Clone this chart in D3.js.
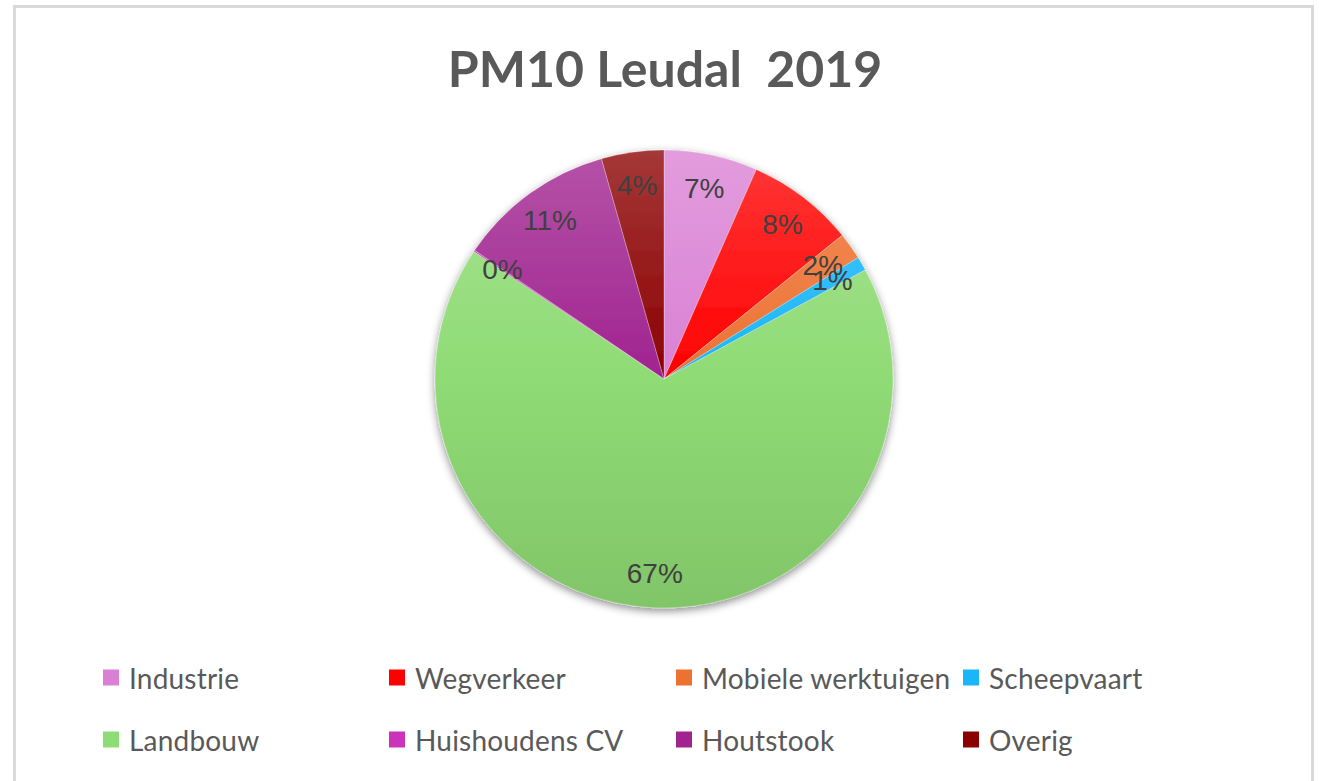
<!DOCTYPE html>
<html>
<head>
<meta charset="utf-8">
<script src="https://cdn.jsdelivr.net/npm/d3@7/dist/d3.min.js"></script>
<style>
  html, body { margin: 0; padding: 0; background: #fff; }
  svg { display: block; }
</style>
</head>
<body>
<svg id="chart" width="1319" height="781"></svg>
<script>
// ---- data ----
const categories = ["Industrie", "Wegverkeer", "Mobiele werktuigen", "Scheepvaart",
                    "Landbouw", "Huishoudens CV", "Houtstook", "Overig"];
const values = [6.6, 7.6, 1.9, 1.0, 67.3, 0.1, 11.1, 4.4];
const colors = ["#DA80D4", "#FF0000", "#ED7131", "#1AB6F8",
                "#8FDB75", "#CC33BB", "#A0238F", "#8B0000"];
const title = "PM10 Leudal  2019";

// ---- layout ----
const cx = 664, cy = 379, R = 229, labelR = 195;

const svg = d3.select("#chart");
const defs = svg.append("defs");

// frame
svg.append("rect")
  .attr("x", 14.5).attr("y", 6.5)
  .attr("width", 1298).attr("height", 800)
  .attr("fill", "#fff").attr("stroke", "#d9d9d9").attr("stroke-width", 3);

// title
svg.append("text")
  .attr("x", 665).attr("y", 87)
  .attr("text-anchor", "middle")
  .style("white-space", "pre")
  .attr("font-family", "Lato, 'Liberation Sans', Arial, sans-serif")
  .attr("font-weight", "bold")
  .attr("font-size", 50)
  .attr("fill", "#595959")
  .text(title);

// shadow filter
const f = defs.append("filter").attr("id", "shadow")
  .attr("x", "-20%").attr("y", "-20%").attr("width", "140%").attr("height", "140%");
f.append("feDropShadow").attr("dx", 0).attr("dy", 3).attr("stdDeviation", 4)
  .attr("flood-color", "#000").attr("flood-opacity", 0.45);

// gradients (in the pie group's coordinate space)
colors.forEach((c, i) => {
  const g = defs.append("linearGradient").attr("id", "grad" + i)
    .attr("gradientUnits", "userSpaceOnUse")
    .attr("x1", 0).attr("x2", 0).attr("y1", -R).attr("y2", R);
  g.append("stop").attr("offset", 0).attr("stop-color", d3.interpolateRgb(c, "#ffffff")(0.22));
  g.append("stop").attr("offset", 0.5).attr("stop-color", c);
  g.append("stop").attr("offset", 1).attr("stop-color", d3.interpolateRgb(c, "#000000")(0.1));
});

const data = categories.map((k, i) => ({ name: k, value: values[i], color: colors[i], i }));
const total = d3.sum(values);

const pie = d3.pie().value(d => d.value).sort(null);
const arcs = pie(data);
const arc = d3.arc().innerRadius(0).outerRadius(R);
const labelArc = d3.arc().innerRadius(labelR).outerRadius(labelR);

const gPie = svg.append("g").attr("transform", `translate(${cx},${cy})`);
gPie.append("g").attr("filter", "url(#shadow)")
  .selectAll("path").data(arcs).join("path")
  .attr("d", arc)
  .attr("fill", d => `url(#grad${d.data.i})`)
  .attr("stroke", "rgba(255,255,255,0.35)")
  .attr("stroke-width", 0.8);

gPie.append("g").selectAll("text").data(arcs).join("text")
  .attr("transform", d => `translate(${labelArc.centroid(d)})`)
  .attr("text-anchor", "middle")
  .attr("dominant-baseline", "central")
  .attr("font-family", "'Liberation Sans', Arial, sans-serif")
  .attr("font-size", 28)
  .attr("fill", "#404040")
  .text(d => Math.round(d.data.value / total * 100) + "%");

// legend
const colX = [103, 389, 676, 963];
const rowY = [678, 740];
const leg = svg.append("g");
const items = leg.selectAll("g").data(data).join("g")
  .attr("transform", (d, i) => `translate(${colX[i % 4]},${rowY[Math.floor(i / 4)]})`);
items.append("rect")
  .attr("x", 0).attr("y", -8.5).attr("width", 16).attr("height", 16)
  .attr("fill", d => d.color);
items.append("text")
  .attr("x", 26).attr("y", 0)
  .attr("dominant-baseline", "central")
  .attr("font-family", "Lato, 'Liberation Sans', Arial, sans-serif")
  .attr("font-size", 28)
  .attr("letter-spacing", 0.2)
  .attr("fill", "#595959")
  .text(d => d.name);
</script>
</body>
</html>
